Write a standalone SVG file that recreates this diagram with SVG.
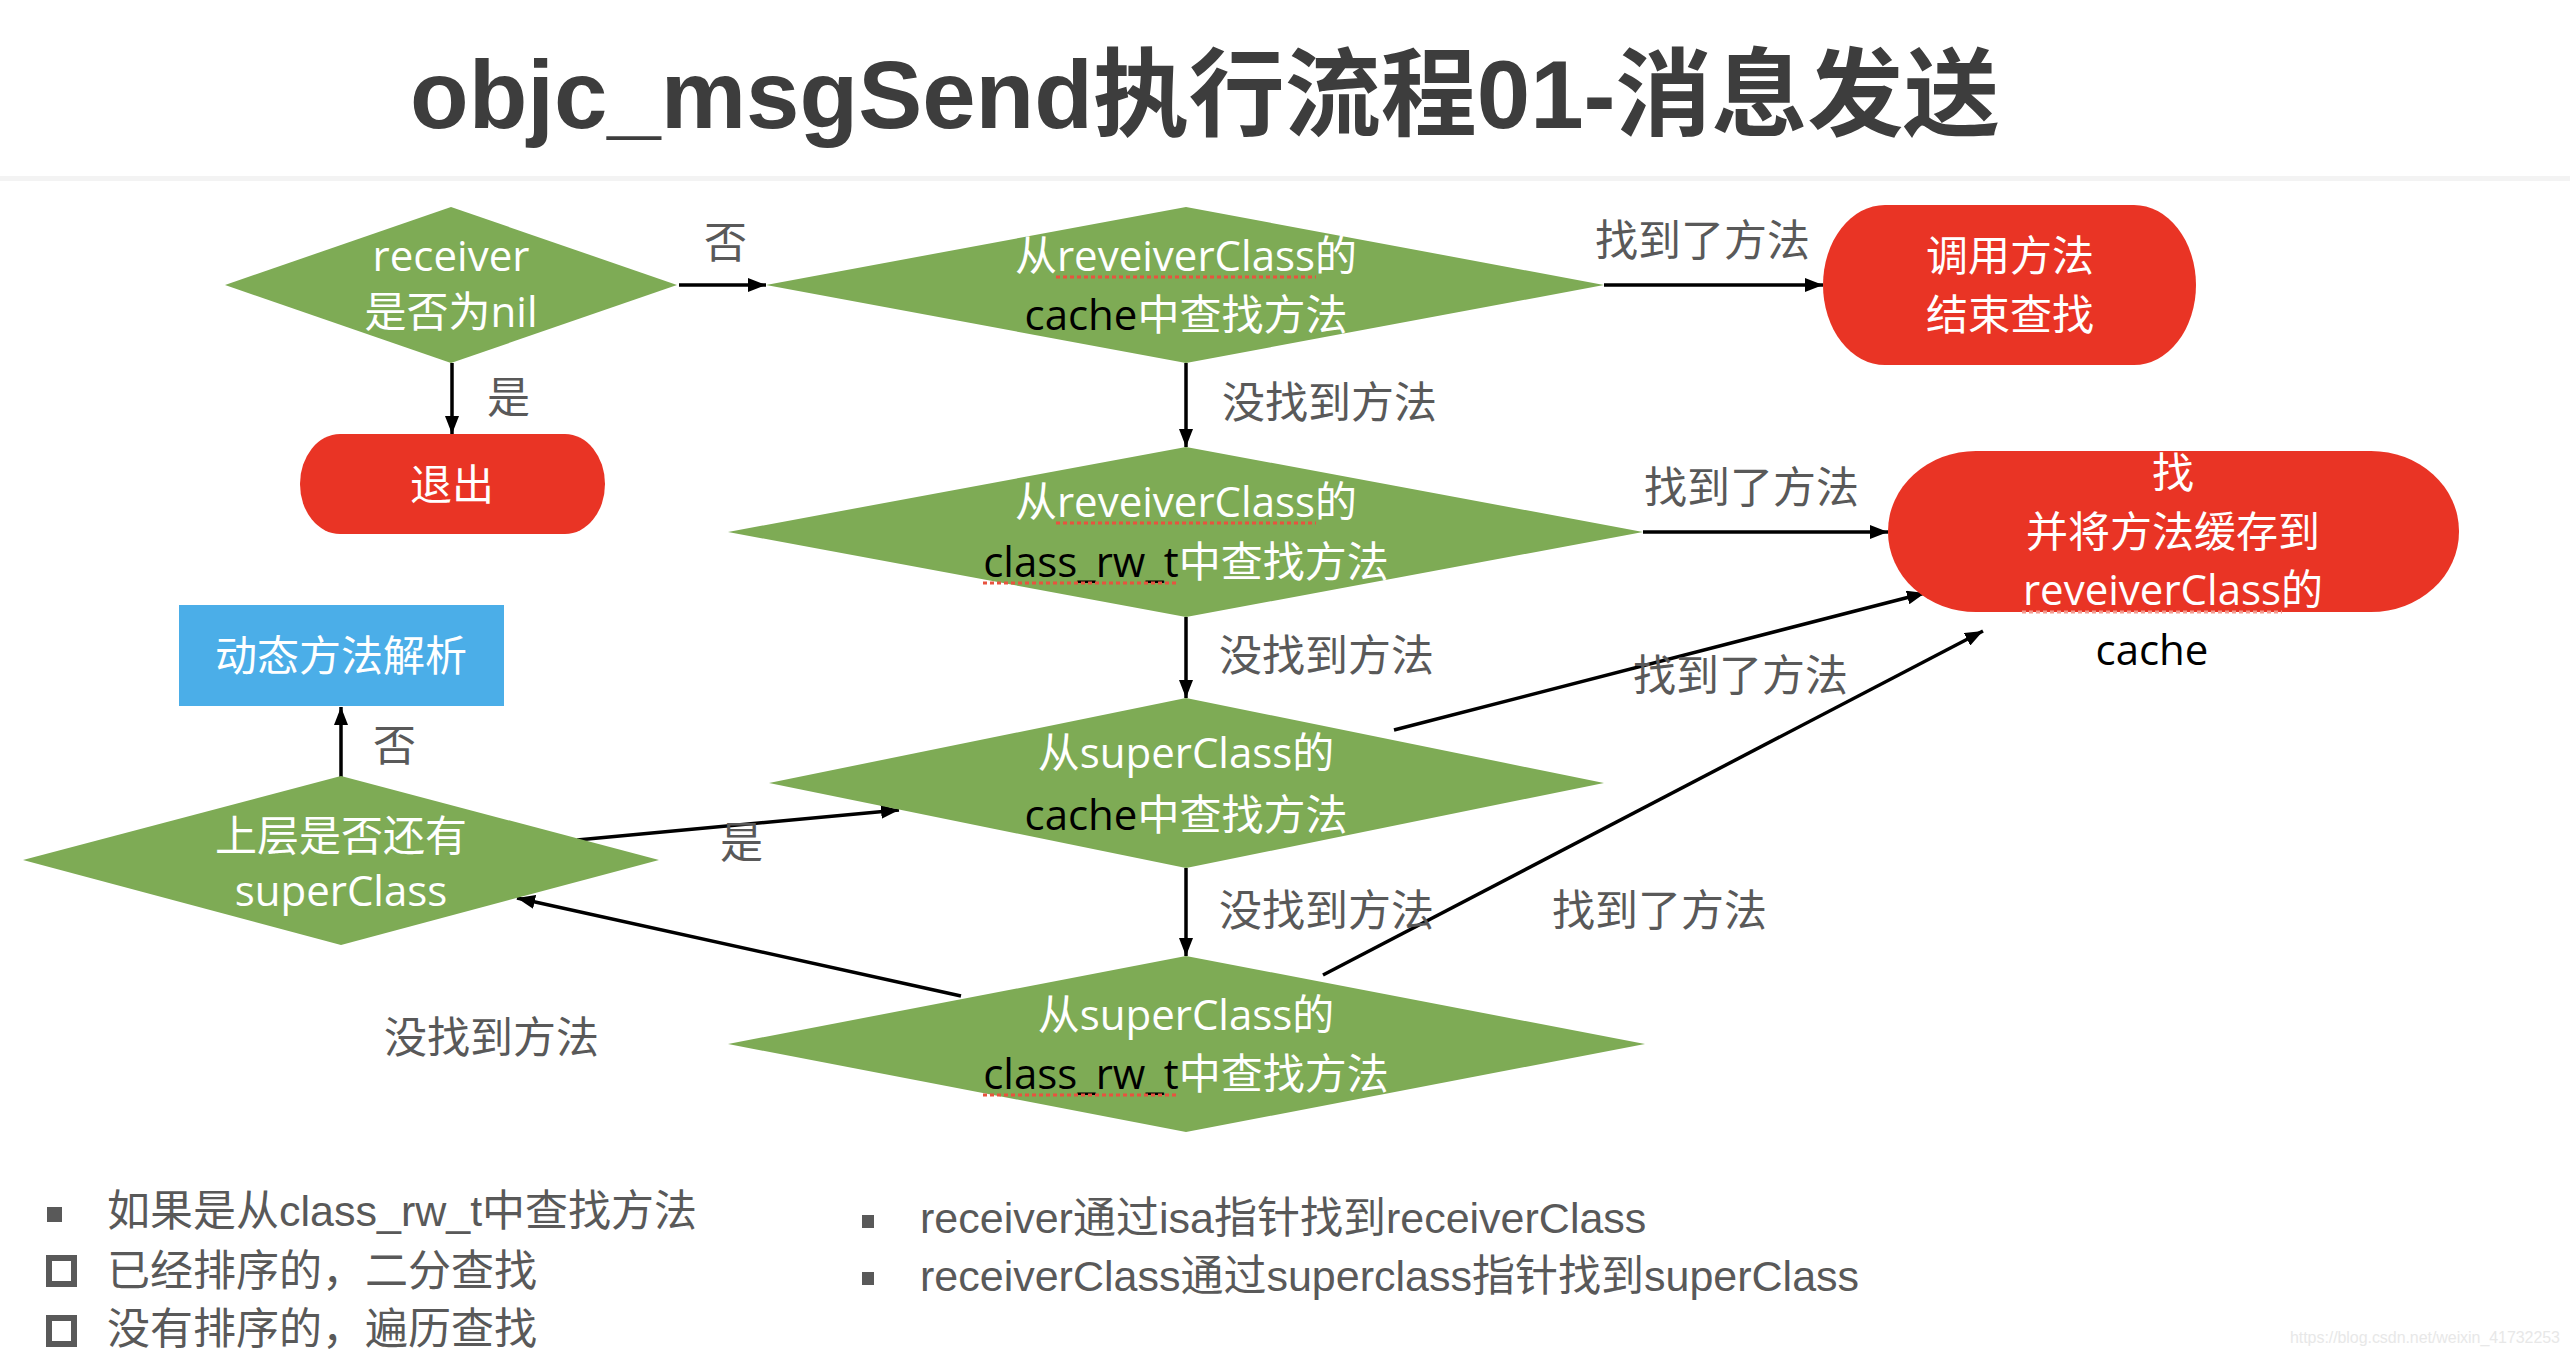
<svg xmlns="http://www.w3.org/2000/svg" width="2570" height="1356" viewBox="0 0 2570 1356">
<defs>
<marker id="ah" markerUnits="userSpaceOnUse" markerWidth="18" markerHeight="14" refX="18" refY="7" orient="auto">
<path d="M0,0 L18,7 L0,14 z" fill="#000"/>
</marker>
<style>
.dia{fill:#7eab55}
.pill{fill:#e93425}
.nt{font-family:"Open Sans","Noto Sans CJK SC",sans-serif;font-size:42px;fill:#fff;text-anchor:middle}
.blk{fill:#000}
.lbl{font-family:"Noto Sans CJK SC",sans-serif;font-size:43px;fill:#595959}
.note{font-family:"Liberation Sans","Noto Sans CJK SC",sans-serif;font-size:43px;fill:#595959}
.ul{stroke:#e8533f;stroke-width:3;stroke-dasharray:4 3;fill:none}
.ul2{stroke:#f39a8e;stroke-width:3;stroke-dasharray:4 3;fill:none}
.cn{stroke:#000;stroke-width:3.5;fill:none;marker-end:url(#ah)}
</style>
</defs>
<rect width="2570" height="1356" fill="#fff"/>
<text x="410" y="128" font-family="Liberation Sans,Noto Sans CJK SC,sans-serif" font-size="96" font-weight="bold" fill="#3d3d3d">objc_msgSend执行流程01-消息发送</text>
<rect x="0" y="176" width="2570" height="5" fill="#f3f3f3"/>

<g id="connectors">
<line class="cn" x1="679" y1="285" x2="766" y2="285"/>
<line class="cn" x1="452" y1="363" x2="452" y2="434"/>
<line class="cn" x1="1604" y1="285" x2="1823" y2="285"/>
<line class="cn" x1="1186" y1="363" x2="1186" y2="447"/>
<line class="cn" x1="1643" y1="532" x2="1888" y2="532"/>
<line class="cn" x1="1186" y1="617" x2="1186" y2="698"/>
<line class="cn" x1="1394" y1="730" x2="1925" y2="593"/>
<line class="cn" x1="1186" y1="868" x2="1186" y2="956"/>
<line class="cn" x1="1323" y1="975" x2="1983" y2="631"/>
<line class="cn" x1="961" y1="996" x2="517" y2="898"/>
<line class="cn" x1="577" y1="840" x2="899" y2="810"/>
<line class="cn" x1="341" y1="777" x2="341" y2="707"/>
<text class="lbl" x="704" y="258">否</text>
<text class="lbl" x="487" y="413">是</text>
<text class="lbl" x="1595" y="256">找到了方法</text>
<text class="lbl" x="1222" y="418">没找到方法</text>
<text class="lbl" x="1644" y="503">找到了方法</text>
<text class="lbl" x="1219" y="671">没找到方法</text>
<text class="lbl" x="1633" y="691">找到了方法</text>
<text class="lbl" x="1219" y="926">没找到方法</text>
<text class="lbl" x="1552" y="926">找到了方法</text>
<text class="lbl" x="384" y="1053">没找到方法</text>
<text class="lbl" x="720" y="858">是</text>
<text class="lbl" x="373" y="761">否</text>
</g>

<g id="n-receiver-nil">
<polygon class="dia" points="225,285 451,207 677,285 451,363"/>
<text class="nt" x="451" y="271">receiver</text>
<text class="nt" x="451" y="327">是否为nil</text>
</g>

<g id="n-exit">
<rect class="pill" x="300" y="434" width="305" height="100" rx="40" ry="50"/>
<text class="nt" x="452" y="500">退出</text>
</g>

<g id="n-cls-cache">
<polygon class="dia" points="766,285 1186,207 1604,285 1186,363"/>
<text class="nt" x="1186" y="271">从reveiverClass的</text>
<line class="ul" x1="1056" y1="277" x2="1316" y2="277"/>
<text class="nt" x="1186" y="330"><tspan class="blk">cache</tspan>中查找方法</text>
</g>

<g id="n-call">
<rect class="pill" x="1823" y="205" width="373" height="160" rx="62" ry="80"/>
<text class="nt" x="2010" y="271">调用方法</text>
<text class="nt" x="2010" y="330">结束查找</text>
</g>

<g id="n-cls-rw">
<polygon class="dia" points="728,532 1186,447 1643,532 1186,617"/>
<text class="nt" x="1186" y="517">从reveiverClass的</text>
<line class="ul" x1="1056" y1="523" x2="1316" y2="523"/>
<text class="nt" x="1186" y="577"><tspan class="blk">class_rw_t</tspan>中查找方法</text>
<line class="ul" x1="983" y1="583" x2="1179" y2="583"/>
</g>

<g id="n-cache-store">
<rect class="pill" x="1888" y="451" width="571" height="161" rx="88" ry="80"/>
<text class="nt" x="2173" y="488">找</text>
<text class="nt" x="2173" y="547">并将方法缓存到</text>
<text class="nt" x="2173" y="605">reveiverClass的</text>
<line class="ul2" x1="2022" y1="612" x2="2282" y2="612"/>
<text class="nt blk" x="2152" y="665">cache</text>
</g>

<g id="n-super-cache">
<polygon class="dia" points="769,783 1186,698 1604,783 1186,868"/>
<text class="nt" x="1186" y="768">从superClass的</text>
<text class="nt" x="1186" y="830"><tspan class="blk">cache</tspan>中查找方法</text>
</g>

<g id="n-super-rw">
<polygon class="dia" points="728,1044 1186,956 1645,1044 1186,1132"/>
<text class="nt" x="1186" y="1030">从superClass的</text>
<text class="nt" x="1186" y="1089"><tspan class="blk">class_rw_t</tspan>中查找方法</text>
<line class="ul" x1="983" y1="1095" x2="1179" y2="1095"/>
</g>

<g id="n-has-super">
<polygon class="dia" points="23,860 341,776 659,860 341,945"/>
<text class="nt" x="341" y="851">上层是否还有</text>
<text class="nt" x="341" y="906">superClass</text>
</g>

<g id="n-dynamic">
<rect x="179" y="605" width="325" height="101" fill="#4baee8"/>
<text class="nt" x="341" y="671">动态方法解析</text>
</g>

<g id="notes">
<rect x="47" y="1207" width="15" height="15" fill="#595959"/>
<text class="note" x="107" y="1226">如果是从class_rw_t中查找方法</text>
<rect x="49" y="1258" width="25" height="26" fill="none" stroke="#595959" stroke-width="6"/>
<text class="note" x="107" y="1286">已经排序的，二分查找</text>
<rect x="49" y="1318" width="25" height="26" fill="none" stroke="#595959" stroke-width="6"/>
<text class="note" x="107" y="1344">没有排序的，遍历查找</text>
<rect x="862" y="1215" width="12" height="13" fill="#595959"/>
<text class="note" x="920" y="1233">receiver通过isa指针找到receiverClass</text>
<rect x="862" y="1272" width="12" height="13" fill="#595959"/>
<text class="note" x="920" y="1291">receiverClass通过superclass指针找到superClass</text>
</g>
<text x="2290" y="1343" font-family="Liberation Sans,sans-serif" font-size="16" fill="#e8e8e8" textLength="270">https://blog.csdn.net/weixin_41732253</text>
</svg>
